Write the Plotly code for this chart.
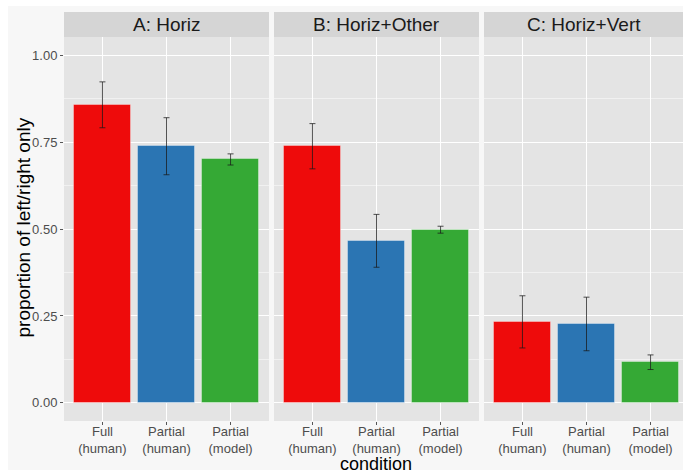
import plotly.graph_objects as go

# ---- data -------------------------------------------------------------
conditions = ["Full<br>(human)", "Partial<br>(human)", "Partial<br>(model)"]
panels = ["A: Horiz", "B: Horiz+Other", "C: Horiz+Vert"]

prop_a = [0.857, 0.738, 0.700]
err_a = [0.066, 0.082, 0.016]
prop_b = [0.738, 0.466, 0.498]
err_b = [0.065, 0.076, 0.010]
prop_c = [0.233, 0.227, 0.117]
err_c = [0.075, 0.077, 0.021]

bar_colors = ["#ee0b0b", "#2b75b3", "#35a935"]

# ---- geometry (pixels) ------------------------------------------------
W, H = 683, 470
ML, MR, MT, MB = 64, 0, 12, 49
PW, PH = W - ML - MR, H - MT - MB


def px(x):
    return (x - ML) / PW


def py(y):
    return (H - MB - y) / PH


strip_top, strip_bot = 12, 37
panel_px = [(64, 269), (274, 479), (484, 683)]
unit = 205 / 3.2  # pixels per category step

PANEL_BG = "#e4e4e4"
STRIP_BG = "#d5d5d5"
OUTER_BG = "#f7f7f7"
TICK_COL = "#4d4d4d"

fig = go.Figure()

series = [(prop_a, err_a), (prop_b, err_b), (prop_c, err_c)]
for i, (vals, errs) in enumerate(series):
    suffix = "" if i == 0 else str(i + 1)
    fig.add_trace(go.Bar(
        x=conditions, y=vals, width=0.9,
        marker=dict(color=bar_colors,
                    line=dict(color="rgba(255,255,255,0.35)", width=1)),
        error_y=dict(type="data", array=errs, color="rgba(25,25,25,0.75)",
                     thickness=1, width=3),
        xaxis="x" + suffix, yaxis="y" + suffix, showlegend=False,
    ))

layout = dict(
    width=W, height=H,
    margin=dict(l=ML, r=MR, t=MT, b=MB, pad=0),
    paper_bgcolor=OUTER_BG, plot_bgcolor=PANEL_BG,
    font=dict(family="Liberation Sans, Arial, sans-serif", color=TICK_COL),
    bargap=0,
)

ydom = [0, py(strip_bot)]
for i, (x0, x1) in enumerate(panel_px):
    suffix = "" if i == 0 else str(i + 1)
    width_units = (x1 - x0) / unit
    layout["xaxis" + suffix] = dict(
        domain=[px(x0), px(x1)], anchor="y" + suffix,
        type="category", categoryorder="array", categoryarray=conditions,
        range=[-0.6, -0.6 + width_units],
        showgrid=True, gridcolor="white", gridwidth=1.2,
        ticks="outside", ticklen=3, tickwidth=1, tickcolor="#555555",
        tickfont=dict(size=13, color=TICK_COL), ticklabelstandoff=-5,
        showline=False, zeroline=False, fixedrange=True,
    )
    layout["yaxis" + suffix] = dict(
        domain=ydom, anchor="x" + suffix,
        range=[-0.052, 1.052], tick0=0, dtick=0.25, tickformat=".2f",
        showgrid=True, gridcolor="white", gridwidth=1.2,
        minor=dict(dtick=0.125, tick0=0, showgrid=True,
                   gridcolor="#f1f1f1", gridwidth=0.6),
        zeroline=False, showline=False, fixedrange=True,
        ticks="outside" if i == 0 else "", ticklen=3, tickwidth=1,
        tickcolor="#555555",
        showticklabels=(i == 0),
        tickfont=dict(size=13, color=TICK_COL),
    )
    if i > 0:
        layout["yaxis" + suffix]["matches"] = "y"

shapes = [
    # white page edge along the top and left
    dict(type="rect", xref="paper", yref="paper", x0=px(-5), x1=px(W + 5),
         y0=py(6), y1=py(-5), fillcolor="white", line=dict(width=0),
         layer="below"),
    dict(type="rect", xref="paper", yref="paper", x0=px(-5), x1=px(8),
         y0=py(H + 5), y1=py(-5), fillcolor="white", line=dict(width=0),
         layer="below"),
]
annotations = []
for (x0, x1), title in zip(panel_px, panels):
    shapes.append(dict(type="rect", xref="paper", yref="paper",
                       x0=px(x0), x1=px(x1), y0=py(strip_bot), y1=py(strip_top),
                       fillcolor=STRIP_BG, line=dict(width=0)))
    annotations.append(dict(text=title, xref="paper", yref="paper",
                            x=px((x0 + x1) / 2), y=py((strip_top + strip_bot) / 2),
                            xanchor="center", yanchor="middle", showarrow=False,
                            font=dict(size=19, color="#1a1a1a")))

annotations.append(dict(text="proportion of left/right only", xref="paper",
                        yref="paper", x=px(22.5), y=py(228), textangle=-90,
                        xanchor="center", yanchor="middle", showarrow=False,
                        font=dict(size=19, color="black")))
annotations.append(dict(text="condition", xref="paper", yref="paper",
                        x=px(376), y=py(464), xanchor="center",
                        yanchor="middle", showarrow=False,
                        font=dict(size=18, color="black")))

layout["shapes"] = shapes
layout["annotations"] = annotations
fig.update_layout(**layout)

fig.write_html("out.html")
